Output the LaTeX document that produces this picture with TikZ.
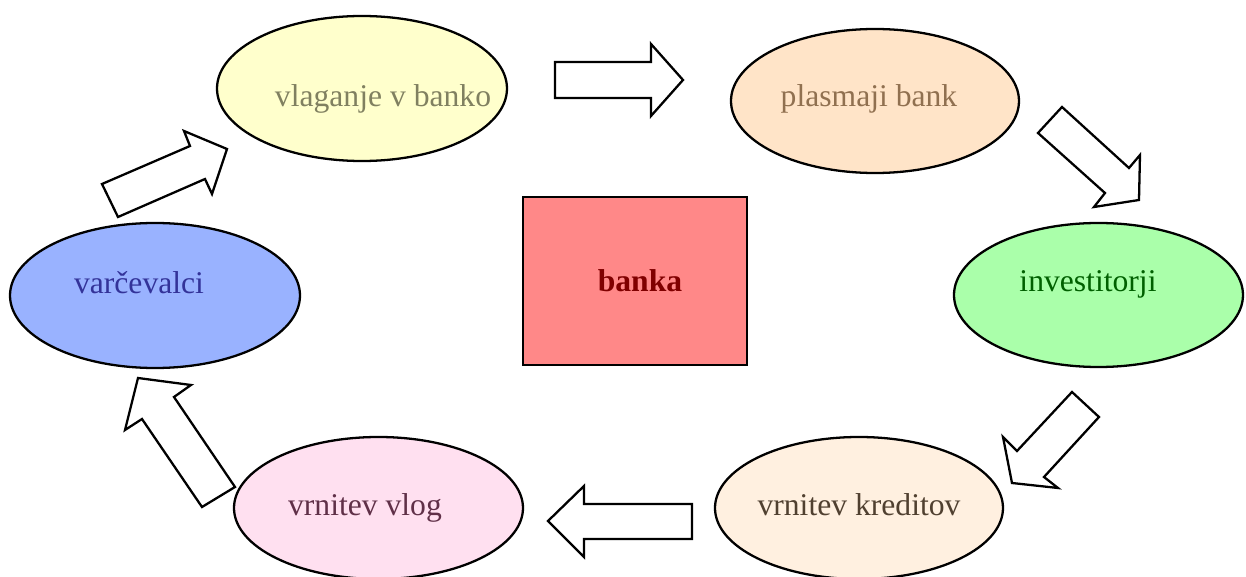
\documentclass[tikz,border=0pt]{standalone}
\usepackage{fontspec}
\setmainfont{Liberation Serif}
\usetikzlibrary{shapes.geometric}

\definecolor{vlagfill}{RGB}{255,255,204}
\definecolor{vlagtext}{RGB}{128,128,96}
\definecolor{plasfill}{RGB}{255,228,200}
\definecolor{plastext}{RGB}{144,112,80}
\definecolor{varcfill}{RGB}{153,178,255}
\definecolor{varctext}{RGB}{51,51,153}
\definecolor{invfill}{RGB}{170,255,170}
\definecolor{invtext}{RGB}{0,96,0}
\definecolor{bankfill}{RGB}{255,136,136}
\definecolor{banktext}{RGB}{128,0,0}
\definecolor{vlogfill}{RGB}{255,224,240}
\definecolor{vlogtext}{RGB}{96,48,72}
\definecolor{kredfill}{RGB}{255,240,224}
\definecolor{kredtext}{RGB}{80,64,48}

% text that does not widen its node: shift right, raise, text
\newcommand{\elltext}[3]{\makebox[0pt][l]{\hspace*{#1}\makebox[0pt]{\smash{\raisebox{#2}{#3}}}}}

\begin{document}
\begin{tikzpicture}[font=\fontsize{9}{11}\selectfont,
  bubble/.style={ellipse, draw, line width=0.65pt, inner sep=0pt, minimum width=2.9cm, minimum height=1.45cm},
  blockarrow/.style={draw, fill=white, line width=0.65pt, line join=miter}]
\useasboundingbox (0,0) rectangle (12.46,5.77);
% bank in the middle
\node[rectangle, draw, line width=0.7pt, fill=bankfill, text=banktext, inner sep=0pt,
  minimum width=2.24cm, minimum height=1.68cm] (banka) at (6.35,2.96) {\elltext{0.05cm}{-0.11cm}{\textbf{banka}}};
% the six stations round it
\node[bubble, fill=vlagfill, text=vlagtext] (vlaganje) at (3.62,4.885) {\elltext{0.21cm}{-0.185cm}{vlaganje v banko}};
\node[bubble, fill=plasfill, text=plastext, minimum width=2.88cm, minimum height=1.44cm] (plasmaji) at (8.75,4.76) {\elltext{-0.06cm}{-0.06cm}{plasmaji bank}};
\node[bubble, fill=varcfill, text=varctext] (varcevalci) at (1.55,2.815) {\elltext{-0.16cm}{0.025cm}{varčevalci}};
\node[bubble, fill=invfill, text=invtext, minimum width=2.89cm, minimum height=1.44cm] (investitorji) at (10.985,2.82) {\elltext{-0.105cm}{0.03cm}{investitorji}};
\node[bubble, fill=vlogfill, text=vlogtext, minimum width=2.89cm, minimum height=1.42cm] (vlog) at (3.785,0.69) {\elltext{-0.135cm}{-0.07cm}{vrnitev vlog}};
\node[bubble, fill=kredfill, text=kredtext, minimum width=2.88cm, minimum height=1.42cm] (krediti) at (8.59,0.69) {\elltext{0cm}{-0.07cm}{vrnitev kreditov}};
% block arrows, clockwise
\draw[blockarrow] (1.02,3.93) -- (1.90,4.31) -- (1.84,4.46) -- (2.27,4.28) -- (2.12,3.83) -- (2.05,3.98) -- (1.18,3.60) -- cycle;
\draw[blockarrow] (5.55,5.15) -- (6.51,5.15) -- (6.51,5.33) -- (6.83,4.97) -- (6.51,4.61) -- (6.51,4.79) -- (5.55,4.79) -- cycle;
\draw[blockarrow] (10.62,4.70) -- (11.29,4.09) -- (11.40,4.22) -- (11.39,3.77) -- (10.94,3.70) -- (11.05,3.84) -- (10.38,4.44) -- cycle;
\draw[blockarrow] (10.72,1.85) -- (10.99,1.60) -- (10.44,1.00) -- (10.58,0.89) -- (10.12,0.94) -- (10.03,1.40) -- (10.17,1.26) -- cycle;
\draw[blockarrow] (6.92,0.73) -- (5.84,0.73) -- (5.84,0.91) -- (5.48,0.56) -- (5.84,0.20) -- (5.84,0.38) -- (6.92,0.38) -- cycle;
\draw[blockarrow] (2.35,0.90) -- (1.74,1.80) -- (1.91,1.92) -- (1.38,1.99) -- (1.25,1.47) -- (1.42,1.58) -- (2.02,0.70) -- cycle;
\end{tikzpicture}
\end{document}
